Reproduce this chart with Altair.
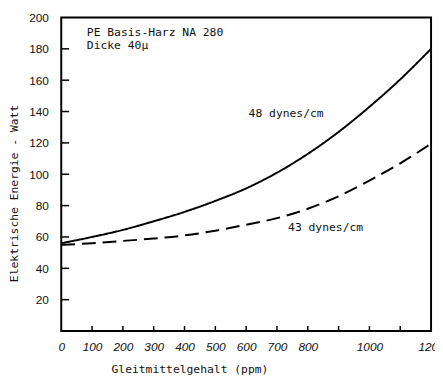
import altair as alt
import pandas as pd

# --- data ---
gleitmittel = [0, 100, 200, 300, 400, 500, 600, 700, 800, 900, 1000, 1100, 1200]
energie_48 = [56, 60, 64.5, 70, 76, 83, 91, 101, 113, 127, 143, 160.5, 180]
energie_43 = [55, 56, 57.5, 59, 61, 64, 67.8, 72, 78, 86, 96, 107, 119.5]

series_names = ["48 dynes/cm", "43 dynes/cm"]
x_label_values = [0, 100, 200, 300, 400, 500, 600, 700, 800, 1000, 1200]
y_label_values = [20, 40, 60, 80, 100, 120, 140, 160, 180, 200]
x_tick_values = [100, 200, 300, 400, 500, 600, 700, 800, 900, 1000, 1100]
y_tick_values = [20, 40, 60, 80, 100, 120, 140, 160, 180]

note_texts = ["PE Basis-Harz NA 280", "Dicke 40\u00b5", "48 dynes/cm", "43 dynes/cm"]
note_x = [83, 83, 608, 736]
note_y = [190, 181.6, 138.4, 66]

lines_df = pd.DataFrame({
    "x": gleitmittel * 2,
    "y": energie_48 + energie_43,
    "s": [series_names[0]] * len(gleitmittel) + [series_names[1]] * len(gleitmittel),
})
notes_df = pd.DataFrame({"x": note_x, "y": note_y, "t": note_texts})
xt_df = pd.DataFrame({"x": x_tick_values})
yt_df = pd.DataFrame({"y": y_tick_values})

W, H = 375, 318
mono = "DejaVu Sans Mono"
sans = "Liberation Sans"

xscale = alt.Scale(domain=[0, 1200], nice=False, zero=False)
yscale = alt.Scale(domain=[0, 200], nice=False, zero=False)

xaxis = alt.Axis(
    values=x_label_values, format="d", ticks=False, domain=False, grid=False,
    labelFont=sans, labelFontSize=12, labelFontStyle="italic", labelColor="#111",
    labelPadding=11, labelFlush=False, labelOverlap=False, labelBound=False,
    title="Gleitmittelgehalt (ppm)", titleFont=mono, titleFontSize=11.5,
    titleFontWeight="normal", titleColor="#111",
    titleX=130, titleY=39, titleAlign="center", titleBaseline="middle",
)
yaxis = alt.Axis(
    values=y_label_values, format="d", ticks=False, domain=False, grid=False,
    labelFont=sans, labelFontSize=12, labelColor="#111", labelPadding=13,
    labelFlush=False, labelOverlap=False, labelBound=False,
    title="Elektrische Energie - Watt", titleFont=mono, titleFontSize=11.5,
    titleFontWeight="normal", titleColor="#111",
    titleX=-47, titleY=178, titleAngle=270, titleAlign="center",
    titleBaseline="middle",
)

lines = alt.Chart(lines_df).mark_line(
    color="black", strokeWidth=2, interpolate="monotone"
).encode(
    x=alt.X("x:Q", scale=xscale, axis=xaxis),
    y=alt.Y("y:Q", scale=yscale, axis=yaxis),
    strokeDash=alt.StrokeDash(
        "s:N",
        scale=alt.Scale(domain=series_names, range=[[1, 0], [14, 7]]),
        legend=None,
    ),
    detail="s:N",
)

xticks = alt.Chart(xt_df).mark_rule(color="black", strokeWidth=1.5).encode(
    x=alt.X("x:Q", scale=xscale, axis=xaxis),
    y=alt.value(H),
    y2=alt.value(H - 5),
)
yticks = alt.Chart(yt_df).mark_rule(color="black", strokeWidth=1.5).encode(
    y=alt.Y("y:Q", scale=yscale, axis=yaxis),
    x=alt.value(0),
    x2=alt.value(8),
)

notes = alt.Chart(notes_df).mark_text(
    font=mono, fontSize=11.5, align="left", baseline="middle", color="#111"
).encode(
    x=alt.X("x:Q", scale=xscale, axis=xaxis),
    y=alt.Y("y:Q", scale=yscale, axis=yaxis),
    text="t:N",
)

chart = alt.layer(lines, xticks, yticks, notes).properties(
    width=W, height=H,
    background="white",
    autosize=alt.AutoSizeParams(type="none"),
    padding={"left": 54, "top": 7, "right": 4, "bottom": 44},
).configure_view(
    stroke="black", strokeWidth=2
)

chart.save("out.html", embed_options={"renderer": "svg", "actions": False})
